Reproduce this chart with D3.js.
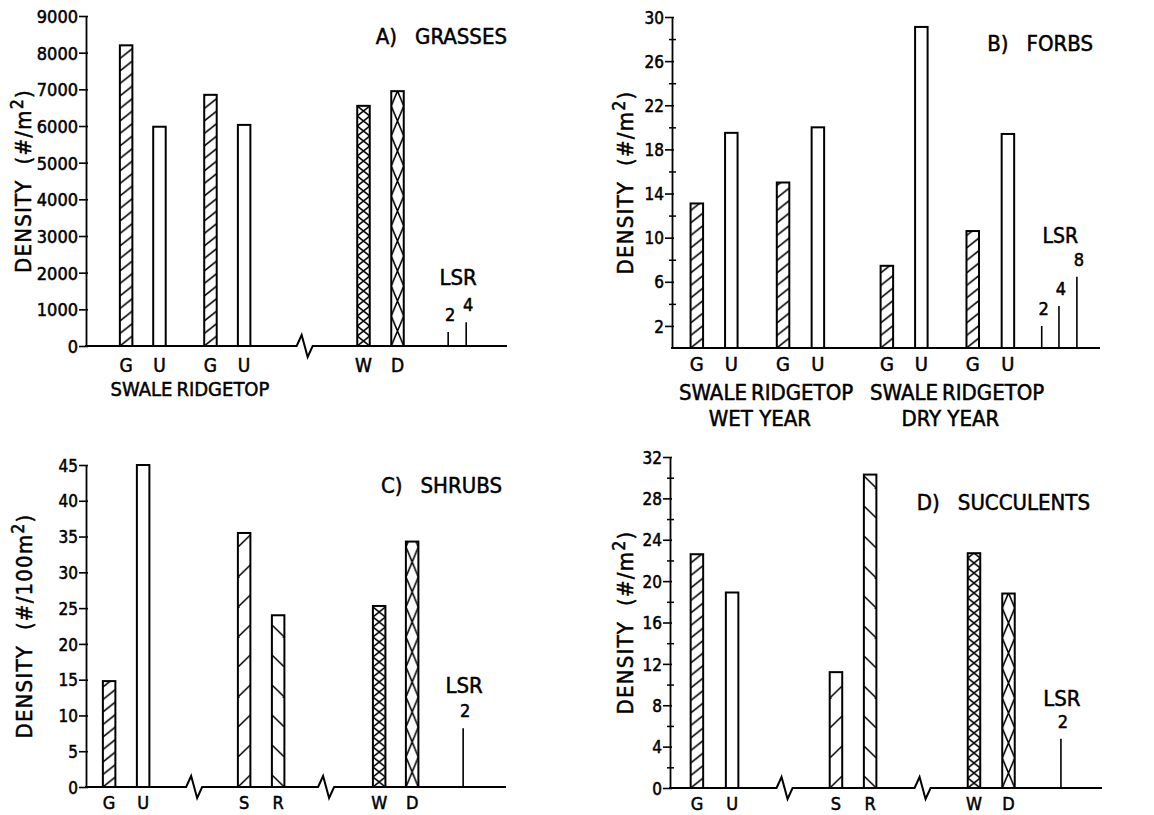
<!DOCTYPE html>
<html><head><meta charset="utf-8">
<script src="https://cdn.jsdelivr.net/npm/d3@7"></script>
<style>
body{margin:0;background:#fff}
svg{display:block}
text{font-family:"Liberation Sans Narrow","DejaVu Sans Condensed",sans-serif;fill:#000;stroke:#000;stroke-width:0.5}
</style>
</head><body>
<svg id="chart" width="1154" height="815"></svg>
<script>
// ---------------- DATA ----------------
// A) Grasses (#/m2)
const grassCategories = ["G", "U", "G", "U", "W", "D"];
const grassValues = [8200, 5980, 6850, 6030, 6550, 6950];
const grassHatch = ["dense", "none", "dense", "none", "cross", "crossSparse"];
const grassLSRValues = [380, 650];
const grassLSRLabels = ["2", "4"];
const grassTicks = [0, 1000, 2000, 3000, 4000, 5000, 6000, 7000, 8000, 9000];
const grassMinorTicks = [];

// B) Forbs (#/m2)
const forbCategories = ["G", "U", "G", "U", "G", "U", "G", "U"];
const forbValues = [13.1, 19.5, 15.0, 20.0, 7.45, 29.1, 10.6, 19.4];
const forbHatch = ["dense", "none", "dense", "none", "dense", "none", "dense", "none"];
const forbLSRValues = [2.0, 3.8, 6.45];
const forbLSRLabels = ["2", "4", "8"];
const forbTicks = [2, 6, 10, 14, 18, 22, 26, 30];
const forbMinorTicks = [4, 8, 12, 16, 20, 24, 28];

// C) Shrubs (#/100m2)
const shrubCategories = ["G", "U", "S", "R", "W", "D"];
const shrubValues = [14.8, 45.0, 35.5, 24.0, 25.3, 34.3];
const shrubHatch = ["dense", "none", "sparse", "sparseBack", "cross", "crossSparse"];
const shrubLSRValues = [8.2];
const shrubLSRLabels = ["2"];
const shrubTicks = [0, 5, 10, 15, 20, 25, 30, 35, 40, 45];
const shrubMinorTicks = [];

// D) Succulents (#/m2)
const succCategories = ["G", "U", "S", "R", "W", "D"];
const succValues = [22.6, 18.9, 11.2, 30.3, 22.7, 18.8];
const succHatch = ["dense", "none", "sparse", "sparseBack", "cross", "crossSparse"];
const succLSRValues = [4.75];
const succLSRLabels = ["2"];
const succTicks = [0, 4, 8, 12, 16, 20, 24, 28, 32];
const succMinorTicks = [2, 6, 10, 14, 18, 22, 26, 30];

// ---------------- LAYOUT ----------------
const BAR_W = 12.5;
const svg = d3.select("#chart");
const defs = svg.append("defs");

function addPattern(id, h, d) {
  const p = defs.append("pattern").attr("id", id)
    .attr("patternUnits", "userSpaceOnUse")
    .attr("width", BAR_W).attr("height", h);
  p.append("path").attr("d", d).attr("stroke", "#000").attr("stroke-width", 1.6).attr("fill", "none");
}
addPattern("dense", 12.5, `M0,12.5 L${BAR_W},2.5 M0,0 L${BAR_W},-10`);
addPattern("sparse", 30, `M0,30 L${BAR_W},18`);
addPattern("sparseBack", 30, `M0,18 L${BAR_W},30`);
addPattern("cross", 10, `M0,0 L${BAR_W},10 M${BAR_W},0 L0,10`);
addPattern("crossSparse", 30, `M0,0 L${BAR_W},30 M${BAR_W},0 L0,30`);

const panels = [
  {
    cats: grassCategories, vals: grassValues, hatch: grassHatch,
    lsr: grassLSRValues, lsrLab: grassLSRLabels, ticks: grassTicks, minor: grassMinorTicks,
    yMax: 9000, axisX: 86, xEnd: 507, y0: 346, yTop: 16, unitEnd: 12.38,
    slots: [1.18, 2.16, 3.66, 4.65, 8.16, 9.16], lsrSlots: [10.65, 11.18], breaks: [6.43],
    title: ["A)", "GRASSES"], titleX: 507, titleY: 44,
    ylabel: ["DENSITY  (#/m", "2", ")"], ylabelX: 31,
    groups: [{type: "split", unit: 2.6, left: "SWALE", right: "RIDGETOP", dy: 50}],
    catDy: 25.5, lsrDy: -37, fs: {tick: 18, cat: 19, grp: 20, title: 22, lsr: 22, ylab: 22}
  },
  {
    cats: forbCategories, vals: forbValues, hatch: forbHatch,
    lsr: forbLSRValues, lsrLab: forbLSRLabels, ticks: forbTicks, minor: forbMinorTicks,
    yMax: 30, axisX: 672, xEnd: 1100, y0: 348, yTop: 17, unitEnd: 12.41,
    slots: [0.72, 1.72, 3.22, 4.23, 6.23, 7.23, 8.72, 9.74], lsrSlots: [10.72, 11.22, 11.74], breaks: [],
    title: ["B)", "FORBS"], titleX: 1093, titleY: 51,
    ylabel: ["DENSITY  (#/m", "2", ")"], ylabelX: 633,
    groups: [
      {type: "split", unit: 2.23, left: "SWALE", right: "RIDGETOP", dy: 52},
      {type: "split", unit: 7.77, left: "SWALE", right: "RIDGETOP", dy: 52},
      {type: "center", unit: 2.55, text: "WET YEAR", dy: 78},
      {type: "center", unit: 8.07, text: "DRY YEAR", dy: 78}
    ],
    catDy: 22.5, lsrDy: -34, fs: {tick: 17, cat: 20, grp: 22, title: 22, lsr: 21, ylab: 22}
  },
  {
    cats: shrubCategories, vals: shrubValues, hatch: shrubHatch,
    lsr: shrubLSRValues, lsrLab: shrubLSRLabels, ticks: shrubTicks, minor: shrubMinorTicks,
    yMax: 45, axisX: 86, xEnd: 506, y0: 787, yTop: 465, unitEnd: 12.35,
    slots: [0.68, 1.68, 4.65, 5.65, 8.62, 9.59], lsrSlots: [11.09], breaks: [3.18, 7.06],
    title: ["C)", "SHRUBS"], titleX: 502, titleY: 493,
    ylabel: ["DENSITY  (#/100m", "2", ")"], ylabelX: 32,
    groups: [],
    catDy: 22, lsrDy: -35, fs: {tick: 17, cat: 18, grp: 21, title: 22, lsr: 22, ylab: 22}
  },
  {
    cats: succCategories, vals: succValues, hatch: succHatch,
    lsr: succLSRValues, lsrLab: succLSRLabels, ticks: succTicks, minor: succMinorTicks,
    yMax: 32, axisX: 670, xEnd: 1102, y0: 788, yTop: 457, unitEnd: 12.52,
    slots: [0.78, 1.80, 4.81, 5.80, 8.81, 9.81], lsrSlots: [11.33], breaks: [3.32, 7.32],
    title: ["D)", "SUCCULENTS"], titleX: 1090, titleY: 510,
    ylabel: ["DENSITY  (#/m", "2", ")"], ylabelX: 633,
    groups: [],
    catDy: 21.5, lsrDy: -33, fs: {tick: 17, cat: 18, grp: 21, title: 22, lsr: 22, ylab: 22}
  }
];

panels.forEach(P => {
  const g = svg.append("g");
  const y = d3.scaleLinear().domain([0, P.yMax]).range([P.y0, P.yTop]);
  const x = d3.scaleLinear().domain([0, P.unitEnd]).range([P.axisX, P.xEnd]);

  // y axis (major)
  const ax = g.append("g").attr("transform", `translate(${P.axisX},0)`)
    .call(d3.axisLeft(y).tickValues(P.ticks).tickSize(7).tickSizeOuter(0).tickPadding(1).tickFormat(d3.format("d")));
  ax.attr("font-family", null);
  ax.select(".domain").attr("stroke-width", 1.8);
  ax.selectAll(".tick line").attr("x2", -7).attr("x1", 2).attr("stroke-width", 1.6);
  ax.selectAll(".tick text").attr("font-size", P.fs.tick).attr("fill", "#000").attr("dy", "0.36em");
  // minor ticks
  if (P.minor.length) {
    const mx = g.append("g").attr("transform", `translate(${P.axisX},0)`)
      .call(d3.axisLeft(y).tickValues(P.minor).tickSize(3).tickSizeOuter(0).tickFormat(""));
    mx.select(".domain").remove();
    mx.selectAll(".tick line").attr("x1", 4).attr("stroke-width", 1.5);
  }

  // baseline with breaks
  const pts = [[P.axisX - 1, P.y0]];
  P.breaks.forEach(b => {
    const xb = x(b);
    pts.push([xb - 8, P.y0], [xb - 3, P.y0 - 11], [xb + 3, P.y0 + 11], [xb + 8, P.y0]);
  });
  pts.push([P.xEnd, P.y0]);
  g.append("path").attr("d", d3.line()(pts)).attr("fill", "none").attr("stroke", "#000").attr("stroke-width", 2);

  // bars
  P.vals.forEach((v, i) => {
    const bx = x(P.slots[i]) - BAR_W / 2;
    const bg = g.append("g").attr("transform", `translate(${bx},${P.y0})`);
    const h = P.y0 - y(v);
    bg.append("rect").attr("x", 0).attr("y", -h).attr("width", BAR_W).attr("height", h)
      .attr("fill", P.hatch[i] === "none" ? "#fff" : `url(#${P.hatch[i]})`)
      .attr("stroke", "#000").attr("stroke-width", 2);
    g.append("text").attr("x", x(P.slots[i])).attr("y", P.y0 + P.catDy)
      .attr("text-anchor", "middle").attr("font-size", P.fs.cat).text(P.cats[i]);
  });

  // LSR lines
  P.lsr.forEach((v, i) => {
    const lx = x(P.lsrSlots[i]);
    g.append("line").attr("x1", lx).attr("x2", lx).attr("y1", P.y0).attr("y2", y(v))
      .attr("stroke", "#000").attr("stroke-width", 1.6);
    g.append("text").attr("x", lx + 2).attr("y", y(v) - 11).attr("text-anchor", "middle")
      .attr("font-size", 18).text(P.lsrLab[i]);
  });
  const lsrTop = d3.min(P.lsr, v => y(v));
  const lsrMid = (x(P.lsrSlots[0]) + x(P.lsrSlots[P.lsrSlots.length - 1])) / 2 + 1;
  g.append("text").attr("x", lsrMid).attr("y", lsrTop + P.lsrDy).attr("text-anchor", "middle")
    .attr("font-size", P.fs.lsr).text("LSR");

  // group labels
  P.groups.forEach(gr => {
    if (gr.type === "split") {
      g.append("text").attr("x", x(gr.unit) - 2).attr("y", P.y0 + gr.dy).attr("text-anchor", "end")
        .attr("font-size", P.fs.grp).text(gr.left);
      g.append("text").attr("x", x(gr.unit) + 2).attr("y", P.y0 + gr.dy).attr("text-anchor", "start")
        .attr("font-size", P.fs.grp).text(gr.right);
    } else {
      g.append("text").attr("x", x(gr.unit)).attr("y", P.y0 + gr.dy).attr("text-anchor", "middle")
        .attr("font-size", P.fs.grp).text(gr.text);
    }
  });

  // title
  const t = g.append("text").attr("x", P.titleX).attr("y", P.titleY).attr("text-anchor", "end")
    .attr("font-size", P.fs.title);
  t.append("tspan").text(P.title[0]);
  t.append("tspan").attr("dx", 18).text(P.title[1]);

  // y label
  const yl = g.append("text")
    .attr("transform", `translate(${P.ylabelX},${(P.y0 + P.yTop) / 2}) rotate(-90)`)
    .attr("text-anchor", "middle").attr("font-size", P.fs.ylab).attr("letter-spacing", 1.2);
  yl.append("tspan").style("white-space", "pre").text(P.ylabel[0]);
  yl.append("tspan").attr("dy", -8).attr("font-size", P.fs.ylab * 0.8).text(P.ylabel[1]);
  yl.append("tspan").attr("dy", 8).text(P.ylabel[2]);
});
</script>
</body></html>
